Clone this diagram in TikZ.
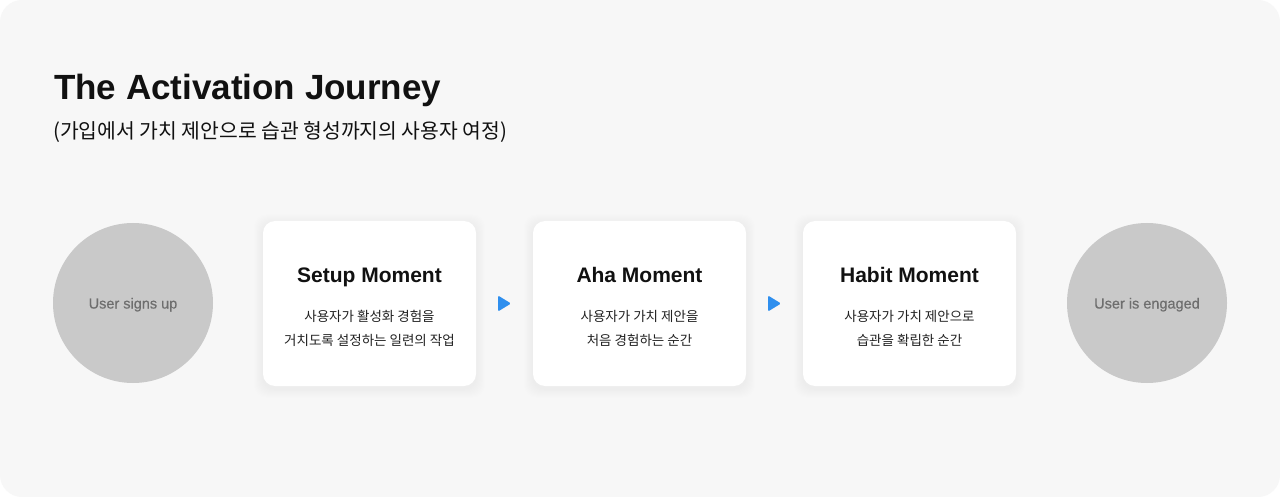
\documentclass[tikz,border=0pt]{standalone}
\usepackage{fontspec}
\setmainfont{Liberation Sans}
\newfontfamily\kr{Noto Sans CJK KR}
\newfontfamily\medsans[FakeBold=0.5]{Liberation Sans}
\usetikzlibrary{calc}
\definecolor{pagebg}{HTML}{F7F7F7}
\definecolor{circfill}{HTML}{C9C9C9}
\definecolor{circtext}{HTML}{6E6E6E}
\definecolor{ink}{HTML}{111111}
\definecolor{bodyink}{HTML}{222222}
\definecolor{arrowblue}{HTML}{2F8FEE}
\pgfdeclarelayer{back}
\pgfsetlayers{back,main}
\tikzset{
  endcirc/.style={circle, fill=circfill, minimum size=160pt, inner sep=0pt},
  circlabel/.style={anchor=base, text=circtext, font=\medsans\fontsize{14.5}{17}\selectfont},
  card/.style={rectangle, rounded corners=12pt, fill=white, minimum width=213pt, minimum height=165pt, inner sep=0pt},
  cardtitle/.style={anchor=base, text=ink, font=\fontsize{21}{25}\selectfont\bfseries},
  cardbody/.style={anchor=base, text=bodyink, font=\kr\fontsize{13.5}{16}\selectfont},
  tri/.style={fill=arrowblue, rounded corners=1.2pt}
}
\begin{document}
\begin{tikzpicture}[x=1pt,y=-1pt]
\useasboundingbox (0,0) rectangle (1280,497);

% title
\node[anchor=base west, inner sep=0pt, text=ink, font=\fontsize{35}{42}\selectfont\bfseries] (title) at (54,100) {The Activation Journey};
\node[anchor=base west, inner sep=0pt, text=ink, font=\kr\fontsize{20.4}{24}\selectfont] (subtitle) at (53,139) {(가입에서 가치 제안으로 습관 형성까지의 사용자 여정)};

% end circles
\node[endcirc] (start) at (133,303) {};
\node[circlabel] (startlbl) at (133,308.5) {User signs up};
\node[endcirc] (finish) at (1147,303) {};
\node[circlabel] (finishlbl) at (1147,308.5) {User is engaged};

% cards
\node[card] (setup) at (369.5,303.5) {};
\node[card] (aha) at (639.5,303.5) {};
\node[card] (habit) at (909.5,303.5) {};

\node[cardtitle] (setupT) at (369.5,282) {Setup Moment};
\node[cardbody] (setupB1) at (369.5,321) {사용자가 활성화 경험을};
\node[cardbody] (setupB2) at (369.5,345.5) {거치도록 설정하는 일련의 작업};

\node[cardtitle] (ahaT) at (639.5,282) {Aha Moment};
\node[cardbody] (ahaB1) at (639.5,321) {사용자가 가치 제안을};
\node[cardbody] (ahaB2) at (639.5,345.5) {처음 경험하는 순간};

\node[cardtitle] (habitT) at (909.5,282) {Habit Moment};
\node[cardbody] (habitB1) at (909.5,321) {사용자가 가치 제안으로};
\node[cardbody] (habitB2) at (909.5,345.5) {습관을 확립한 순간};

% arrows between cards
\coordinate (m1) at ($(setup.east)!0.5!(aha.west)$);
\coordinate (m2) at ($(aha.east)!0.5!(habit.west)$);
\foreach \m in {m1,m2}{
  \fill[tri] ($(\m)+(-6.5,-8)$) -- ($(\m)+(6.5,0)$) -- ($(\m)+(-6.5,8)$) -- cycle;
}

\begin{pgfonlayer}{back}
  \fill[white] (0,0) rectangle (1280,497);
  \fill[pagebg, rounded corners=22pt] (0,0) rectangle (1280,497);
  \foreach \n in {setup,aha,habit}{
    \foreach \i in {1,...,10}{
      \fill[black, opacity=0.0035, rounded corners=13pt]
        ($(\n.north west)+(-\i*0.9,-\i*0.9+2.5)$) rectangle ($(\n.south east)+(\i*0.9,\i*0.9+2.5)$);
    }
  }
\end{pgfonlayer}
\end{tikzpicture}
\end{document}
